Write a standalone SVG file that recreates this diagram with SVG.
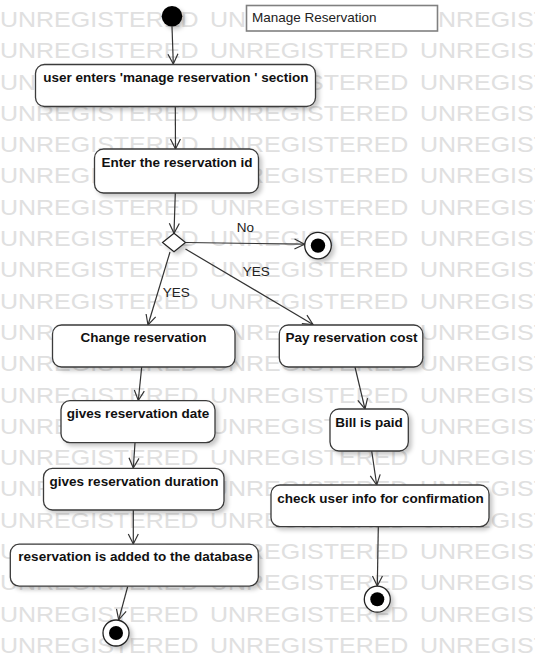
<svg xmlns="http://www.w3.org/2000/svg" width="535" height="664" viewBox="0 0 535 664">
<style>
.wm{font-family:"Liberation Sans",Arial,sans-serif;font-size:21.4px;word-spacing:3.9px;fill:#e0e0e0}
.box{fill:#fff;stroke:#3a3a3a;stroke-width:1.3;filter:url(#sh)}
.lbl{font-family:"Liberation Sans",Arial,sans-serif;font-size:13.5px;font-weight:bold;fill:#111;text-anchor:middle}
.elbl{font-family:"Liberation Sans",Arial,sans-serif;font-size:13.5px;fill:#222}
.edge{fill:none;stroke:#333;stroke-width:1.2;marker-end:url(#arr)}
.fin{fill:#fff;stroke:#222;stroke-width:1.3;filter:url(#sh)}
</style>
<defs>
<filter id="sh" x="-20%" y="-20%" width="150%" height="160%">
<feDropShadow dx="3" dy="3" stdDeviation="2" flood-color="#000" flood-opacity="0.22"/>
</filter>
<marker id="arr" markerUnits="userSpaceOnUse" markerWidth="14" markerHeight="14" refX="11" refY="6" orient="auto" viewBox="0 0 14 12">
<path d="M1,1 L11,6 L1,11" fill="none" stroke="#333" stroke-width="1.2"/>
</marker>
</defs>
<rect width="535" height="664" fill="#fff"/>
<g id="watermark" transform="scale(1.168,1)">
<text class="wm" x="0" y="27">UNREGISTERED UNREGISTERED UNREGISTERED</text>
<text class="wm" x="0" y="58.3">UNREGISTERED UNREGISTERED UNREGISTERED</text>
<text class="wm" x="0" y="89.6">UNREGISTERED UNREGISTERED UNREGISTERED</text>
<text class="wm" x="0" y="120.9">UNREGISTERED UNREGISTERED UNREGISTERED</text>
<text class="wm" x="0" y="152.2">UNREGISTERED UNREGISTERED UNREGISTERED</text>
<text class="wm" x="0" y="183.5">UNREGISTERED UNREGISTERED UNREGISTERED</text>
<text class="wm" x="0" y="214.8">UNREGISTERED UNREGISTERED UNREGISTERED</text>
<text class="wm" x="0" y="246.1">UNREGISTERED UNREGISTERED UNREGISTERED</text>
<text class="wm" x="0" y="277.4">UNREGISTERED UNREGISTERED UNREGISTERED</text>
<text class="wm" x="0" y="308.7">UNREGISTERED UNREGISTERED UNREGISTERED</text>
<text class="wm" x="0" y="340">UNREGISTERED UNREGISTERED UNREGISTERED</text>
<text class="wm" x="0" y="371.3">UNREGISTERED UNREGISTERED UNREGISTERED</text>
<text class="wm" x="0" y="402.6">UNREGISTERED UNREGISTERED UNREGISTERED</text>
<text class="wm" x="0" y="433.9">UNREGISTERED UNREGISTERED UNREGISTERED</text>
<text class="wm" x="0" y="465.2">UNREGISTERED UNREGISTERED UNREGISTERED</text>
<text class="wm" x="0" y="496.5">UNREGISTERED UNREGISTERED UNREGISTERED</text>
<text class="wm" x="0" y="527.8">UNREGISTERED UNREGISTERED UNREGISTERED</text>
<text class="wm" x="0" y="559.1">UNREGISTERED UNREGISTERED UNREGISTERED</text>
<text class="wm" x="0" y="590.4">UNREGISTERED UNREGISTERED UNREGISTERED</text>
<text class="wm" x="0" y="621.7">UNREGISTERED UNREGISTERED UNREGISTERED</text>
<text class="wm" x="0" y="653">UNREGISTERED UNREGISTERED UNREGISTERED</text>
</g>
<g id="connectors">
<path class="edge" d="M172,26.5 L173.3,64"/>
<path class="edge" d="M175.3,106.7 L175.5,149"/>
<path class="edge" d="M175.3,193 L174,233.3"/>
<path class="edge" d="M185.5,242.5 L304.5,244.2"/>
<path class="edge" d="M185.5,249 L313,324.5"/>
<path class="edge" d="M170,252 L148,325"/>
<path class="edge" d="M141.7,367 L138.3,400.5"/>
<path class="edge" d="M135,443 L133.3,468"/>
<path class="edge" d="M133.3,510 L133.3,544"/>
<path class="edge" d="M127.7,586.5 L118.7,619.8"/>
<path class="edge" d="M355,367 L365,409"/>
<path class="edge" d="M371.7,451 L376.7,485"/>
<path class="edge" d="M378.3,527 L377.3,586"/>
<text class="elbl" x="236.7" y="231.7">No</text>
<text class="elbl" x="242.7" y="276">YES</text>
<text class="elbl" x="162.7" y="296.7">YES</text>
</g>
<g id="title">
<rect x="246.5" y="5.5" width="191" height="25.5" fill="#fff" stroke="#808080" stroke-width="1.6"/>
<text x="252" y="22" font-family="Liberation Sans, Arial, sans-serif" font-size="13.5" fill="#222">Manage Reservation</text>
</g>
<g id="start">
<circle cx="172" cy="16.3" r="10.3" fill="#000" filter="url(#sh)"/>
</g>
<g id="n1">
<rect class="box" x="35.5" y="64.5" width="280" height="42" rx="9"/>
<text class="lbl" x="175.8" y="82.3">user enters 'manage reservation ' section</text>
</g>
<g id="n2">
<rect class="box" x="94.5" y="149" width="164" height="44" rx="9"/>
<text class="lbl" x="177" y="166.8">Enter the reservation id</text>
</g>
<g id="decision">
<path d="M174,233.3 L185.5,242.5 L174,251.7 L162.5,242.5 Z" fill="#fff" stroke="#222" stroke-width="1.2" filter="url(#sh)"/>
</g>
<g id="end-no">
<circle class="fin" cx="318" cy="245.6" r="13.3"/>
<circle cx="318" cy="245.6" r="7.2" fill="#000"/>
</g>
<g id="n-change">
<rect class="box" x="52.5" y="325" width="182.5" height="42" rx="9"/>
<text class="lbl" x="143.5" y="341.7">Change reservation</text>
</g>
<g id="n-pay">
<rect class="box" x="279.3" y="325" width="143.5" height="42" rx="9"/>
<text class="lbl" x="351.5" y="341.7">Pay reservation cost</text>
</g>
<g id="n-date">
<rect class="box" x="61" y="400.7" width="154" height="42" rx="9"/>
<text class="lbl" x="138" y="418.3">gives reservation date</text>
</g>
<g id="n-bill">
<rect class="box" x="330" y="409" width="78.3" height="42" rx="9"/>
<text class="lbl" x="369" y="426.7">Bill is paid</text>
</g>
<g id="n-duration">
<rect class="box" x="43.5" y="468.3" width="180.5" height="41.7" rx="9"/>
<text class="lbl" x="134" y="485.7">gives reservation duration</text>
</g>
<g id="n-check">
<rect class="box" x="271" y="485" width="218" height="41.7" rx="9"/>
<text class="lbl" x="380.5" y="503.3">check user info for confirmation</text>
</g>
<g id="n-db">
<rect class="box" x="10.3" y="544.2" width="248" height="42" rx="9"/>
<text class="lbl" x="135.4" y="561">reservation is added to the database</text>
</g>
<g id="end-left">
<circle class="fin" cx="116" cy="633" r="13"/>
<circle cx="116" cy="633" r="7" fill="#000"/>
</g>
<g id="end-right">
<circle class="fin" cx="377.3" cy="599.2" r="13"/>
<circle cx="377.3" cy="599.2" r="7" fill="#000"/>
</g>
</svg>
